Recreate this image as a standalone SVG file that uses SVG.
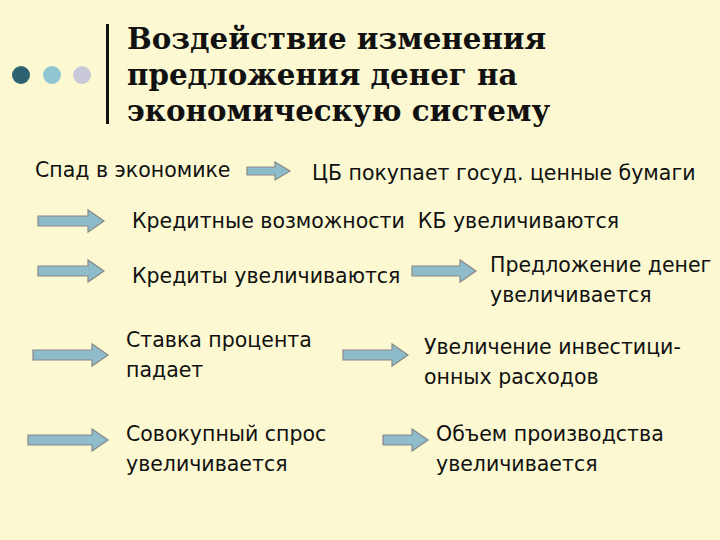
<svg xmlns="http://www.w3.org/2000/svg" width="720" height="540" viewBox="0 0 720 540">
<style>
.t{font-family:"DejaVu Sans","Liberation Sans",sans-serif;font-size:20.5px;fill:#111}
.h{font-family:"DejaVu Serif","Liberation Serif",serif;font-size:29.3px;font-weight:bold;fill:#111}
.a{fill:#8fbccb;stroke:#888;stroke-width:1.2}
</style>
<rect width="720" height="540" fill="#fcf9d2"/>
<g id="deco">
<circle cx="21" cy="75" r="9" fill="#2f6270"/>
<circle cx="52" cy="75" r="9" fill="#8fc6d2"/>
<circle cx="82" cy="75" r="9" fill="#c9c8d8"/>
<rect x="106" y="24" width="3" height="100" fill="#111"/>
</g>
<g id="title">
<text class="h" x="127" y="49">Воздействие изменения</text>
<text class="h" x="127" y="85">предложения денег на</text>
<text class="h" x="127" y="121">экономическую систему</text>
</g>
<g id="connectors">
<path class="a" d="M247,167 H275 V162 L290,171 L275,180 V175 H247 Z"/>
<path class="a" d="M38,216 H88 V210 L104,221 L88,232 V226 H38 Z"/>
<path class="a" d="M38,266 H88 V260 L104,271 L88,282 V276 H38 Z"/>
<path class="a" d="M412,266 H460 V260 L476,271 L460,282 V276 H412 Z"/>
<path class="a" d="M33,350 H92 V344 L108,355 L92,366 V360 H33 Z"/>
<path class="a" d="M343,350 H392 V344 L408,355 L392,366 V360 H343 Z"/>
<path class="a" d="M28,435 H92 V429 L108,440 L92,451 V445 H28 Z"/>
<path class="a" d="M383,435 H412 V429 L428,440 L412,451 V445 H383 Z"/>
</g>
<g id="n1"><text class="t" x="35" y="177">Спад в экономике</text></g>
<g id="n2"><text class="t" x="312" y="180">ЦБ покупает госуд. ценные бумаги</text></g>
<g id="n3"><text class="t" x="132" y="228" xml:space="preserve">Кредитные возможности  КБ увеличиваются</text></g>
<g id="n4"><text class="t" x="132" y="283">Кредиты увеличиваются</text></g>
<g id="n5"><text class="t" x="490" y="272">Предложение денег</text><text class="t" x="490" y="302">увеличивается</text></g>
<g id="n6"><text class="t" x="126" y="347">Ставка процента</text><text class="t" x="126" y="377">падает</text></g>
<g id="n7"><text class="t" x="424" y="354">Увеличение инвестици-</text><text class="t" x="424" y="384">онных расходов</text></g>
<g id="n8"><text class="t" x="126" y="441">Совокупный спрос</text><text class="t" x="126" y="471">увеличивается</text></g>
<g id="n9"><text class="t" x="436" y="441">Объем производства</text><text class="t" x="436" y="471">увеличивается</text></g>
</svg>
